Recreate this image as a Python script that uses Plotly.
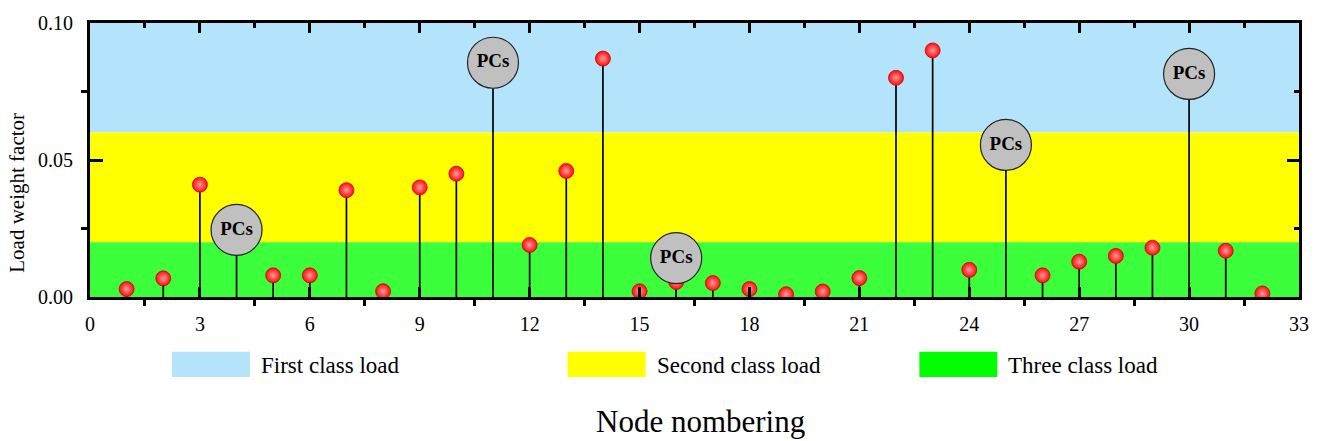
import plotly.graph_objects as go

# ---------------- data ----------------
nodes = list(range(1, 33))
load_weight = [0.0029, 0.0068, 0.041, None, 0.0079, 0.0079, 0.039, 0.0021,
               0.040, 0.045, None, 0.019, 0.046, 0.087, 0.0021, 0.0055,
               0.0051, 0.0029, 0.0010, 0.0020, 0.0069, 0.080, 0.090, 0.0099,
               None, 0.0079, 0.0129, 0.015, 0.018, None, 0.0169, 0.0013]
pcs_nodes = [4, 11, 16, 25, 30]
pcs_values = [0.0245, 0.0855, 0.0142, 0.0555, 0.0814]
pcs_label = "PCs"

class_names = ["First class load", "Second class load", "Three class load"]
class_lower = [0.06, 0.02, 0.00]
class_upper = [0.10, 0.06, 0.02]
band_colors = ["#b4e4fc", "#ffff00", "#3aff3a"]
legend_colors = ["#b4e4fc", "#ffff00", "#00ff00"]

x_range = [0, 33]
y_range = [0, 0.10]
x_title = "Node nombering"
y_title = "Load weight factor"

FONT = "Liberation Serif, Times New Roman, serif"

fig = go.Figure()

# stems for regular nodes
sx, sy = [], []
for n, v in zip(nodes, load_weight):
    if v is None:
        continue
    sx += [n, n, None]
    sy += [0, v, None]
fig.add_trace(go.Scatter(x=sx, y=sy, mode="lines",
                         line=dict(color="black", width=1.7),
                         hoverinfo="skip", showlegend=False))

# stems for PCs nodes
px, py = [], []
for n, v in zip(pcs_nodes, pcs_values):
    px += [n, n, None]
    py += [0, v, None]
fig.add_trace(go.Scatter(x=px, y=py, mode="lines",
                         line=dict(color="black", width=1.7),
                         hoverinfo="skip", showlegend=False))

# red balls
bx = [n for n, v in zip(nodes, load_weight) if v is not None]
by = [v for v in load_weight if v is not None]
fig.add_trace(go.Scatter(
    x=bx, y=by, mode="markers",
    marker=dict(size=15, color="#ff0a0a",
                gradient=dict(type="radial", color="#ff9c9c"),
                line=dict(width=0.8, color="#d40000")),
    showlegend=False))

# PCs circles
fig.add_trace(go.Scatter(
    x=pcs_nodes, y=pcs_values, mode="markers+text",
    marker=dict(size=51, color="#c0c0c0", line=dict(color="#222222", width=1.2)),
    text=["<b>%s</b>" % pcs_label] * len(pcs_nodes),
    textposition="middle center",
    textfont=dict(family=FONT, size=19, color="black"),
    showlegend=False))

# class bands
shapes = []
for lo, hi, col in zip(class_lower, class_upper, band_colors):
    shapes.append(dict(type="rect", xref="paper", yref="y", x0=0, x1=1,
                       y0=lo, y1=hi, fillcolor=col, line=dict(width=0),
                       layer="below"))

# legend (custom, below plot)
leg_x = [0.0678, 0.395, 0.686]
annotations = []
for i, (name, col) in enumerate(zip(class_names, legend_colors)):
    x0 = leg_x[i]
    shapes.append(dict(type="rect", xref="paper", yref="paper",
                       x0=x0, x1=x0 + 0.0645, y0=-0.292, y1=-0.200,
                       fillcolor=col, line=dict(width=0)))
    annotations.append(dict(xref="paper", yref="paper", x=x0 + 0.072, y=-0.25,
                            text=name, showarrow=False, xanchor="left",
                            yanchor="middle",
                            font=dict(family=FONT, size=23, color="black")))

annotations.append(dict(xref="paper", yref="paper", x=0.505, y=-0.455,
                        text=x_title, showarrow=False, xanchor="center",
                        yanchor="middle",
                        font=dict(family=FONT, size=31, color="black")))
annotations.append(dict(xref="paper", yref="paper", x=-0.0605, y=0.38,
                        text=y_title, showarrow=False, textangle=-90,
                        xanchor="center", yanchor="middle",
                        font=dict(family=FONT, size=21, color="black")))

axis_common = dict(showgrid=False, zeroline=False, showline=True,
                   linecolor="black", linewidth=3, tickcolor="black",
                   tickwidth=2.5)

fig.update_layout(
    width=1321, height=441,
    margin=dict(l=90, r=22, t=17, b=144),
    paper_bgcolor="white", plot_bgcolor="white",
    shapes=shapes, annotations=annotations,
    font=dict(family=FONT, color="black"),
    xaxis=dict(range=x_range, dtick=3, tick0=0, ticks="inside", ticklen=10,
               tickfont=dict(family=FONT, size=20), ticklabelstandoff=7,
               minor=dict(ticks="outside", ticklen=6, tick0=1.5, dtick=3,
                          tickcolor="black", tickwidth=2.5),
               **axis_common),
    xaxis2=dict(range=x_range, dtick=3, tick0=0, ticks="inside", ticklen=10,
                overlaying="x", side="top", showticklabels=False,
                minor=dict(ticks="inside", ticklen=5, tick0=1.5, dtick=3,
                           tickcolor="black", tickwidth=2.5),
                **axis_common),
    yaxis=dict(range=y_range, dtick=0.05, tick0=0, tickformat=".2f",
               ticks="inside", ticklen=13, ticklabelstandoff=10,
               tickfont=dict(family=FONT, size=20),
               minor=dict(ticks="outside", ticklen=6, tick0=0.025, dtick=0.05,
                          tickcolor="black", tickwidth=2.5),
               **axis_common),
    yaxis2=dict(range=y_range, dtick=0.05, tick0=0, ticks="inside", ticklen=12,
                overlaying="y", side="right", showticklabels=False,
                minor=dict(ticks="inside", ticklen=5, tick0=0.025, dtick=0.05,
                           tickcolor="black", tickwidth=2.5),
                **axis_common),
)

# dummy trace to activate the mirrored axes
fig.add_trace(go.Scatter(x=[None], y=[None], xaxis="x2", yaxis="y2",
                         showlegend=False, hoverinfo="skip"))

fig.write_html("out.html")
